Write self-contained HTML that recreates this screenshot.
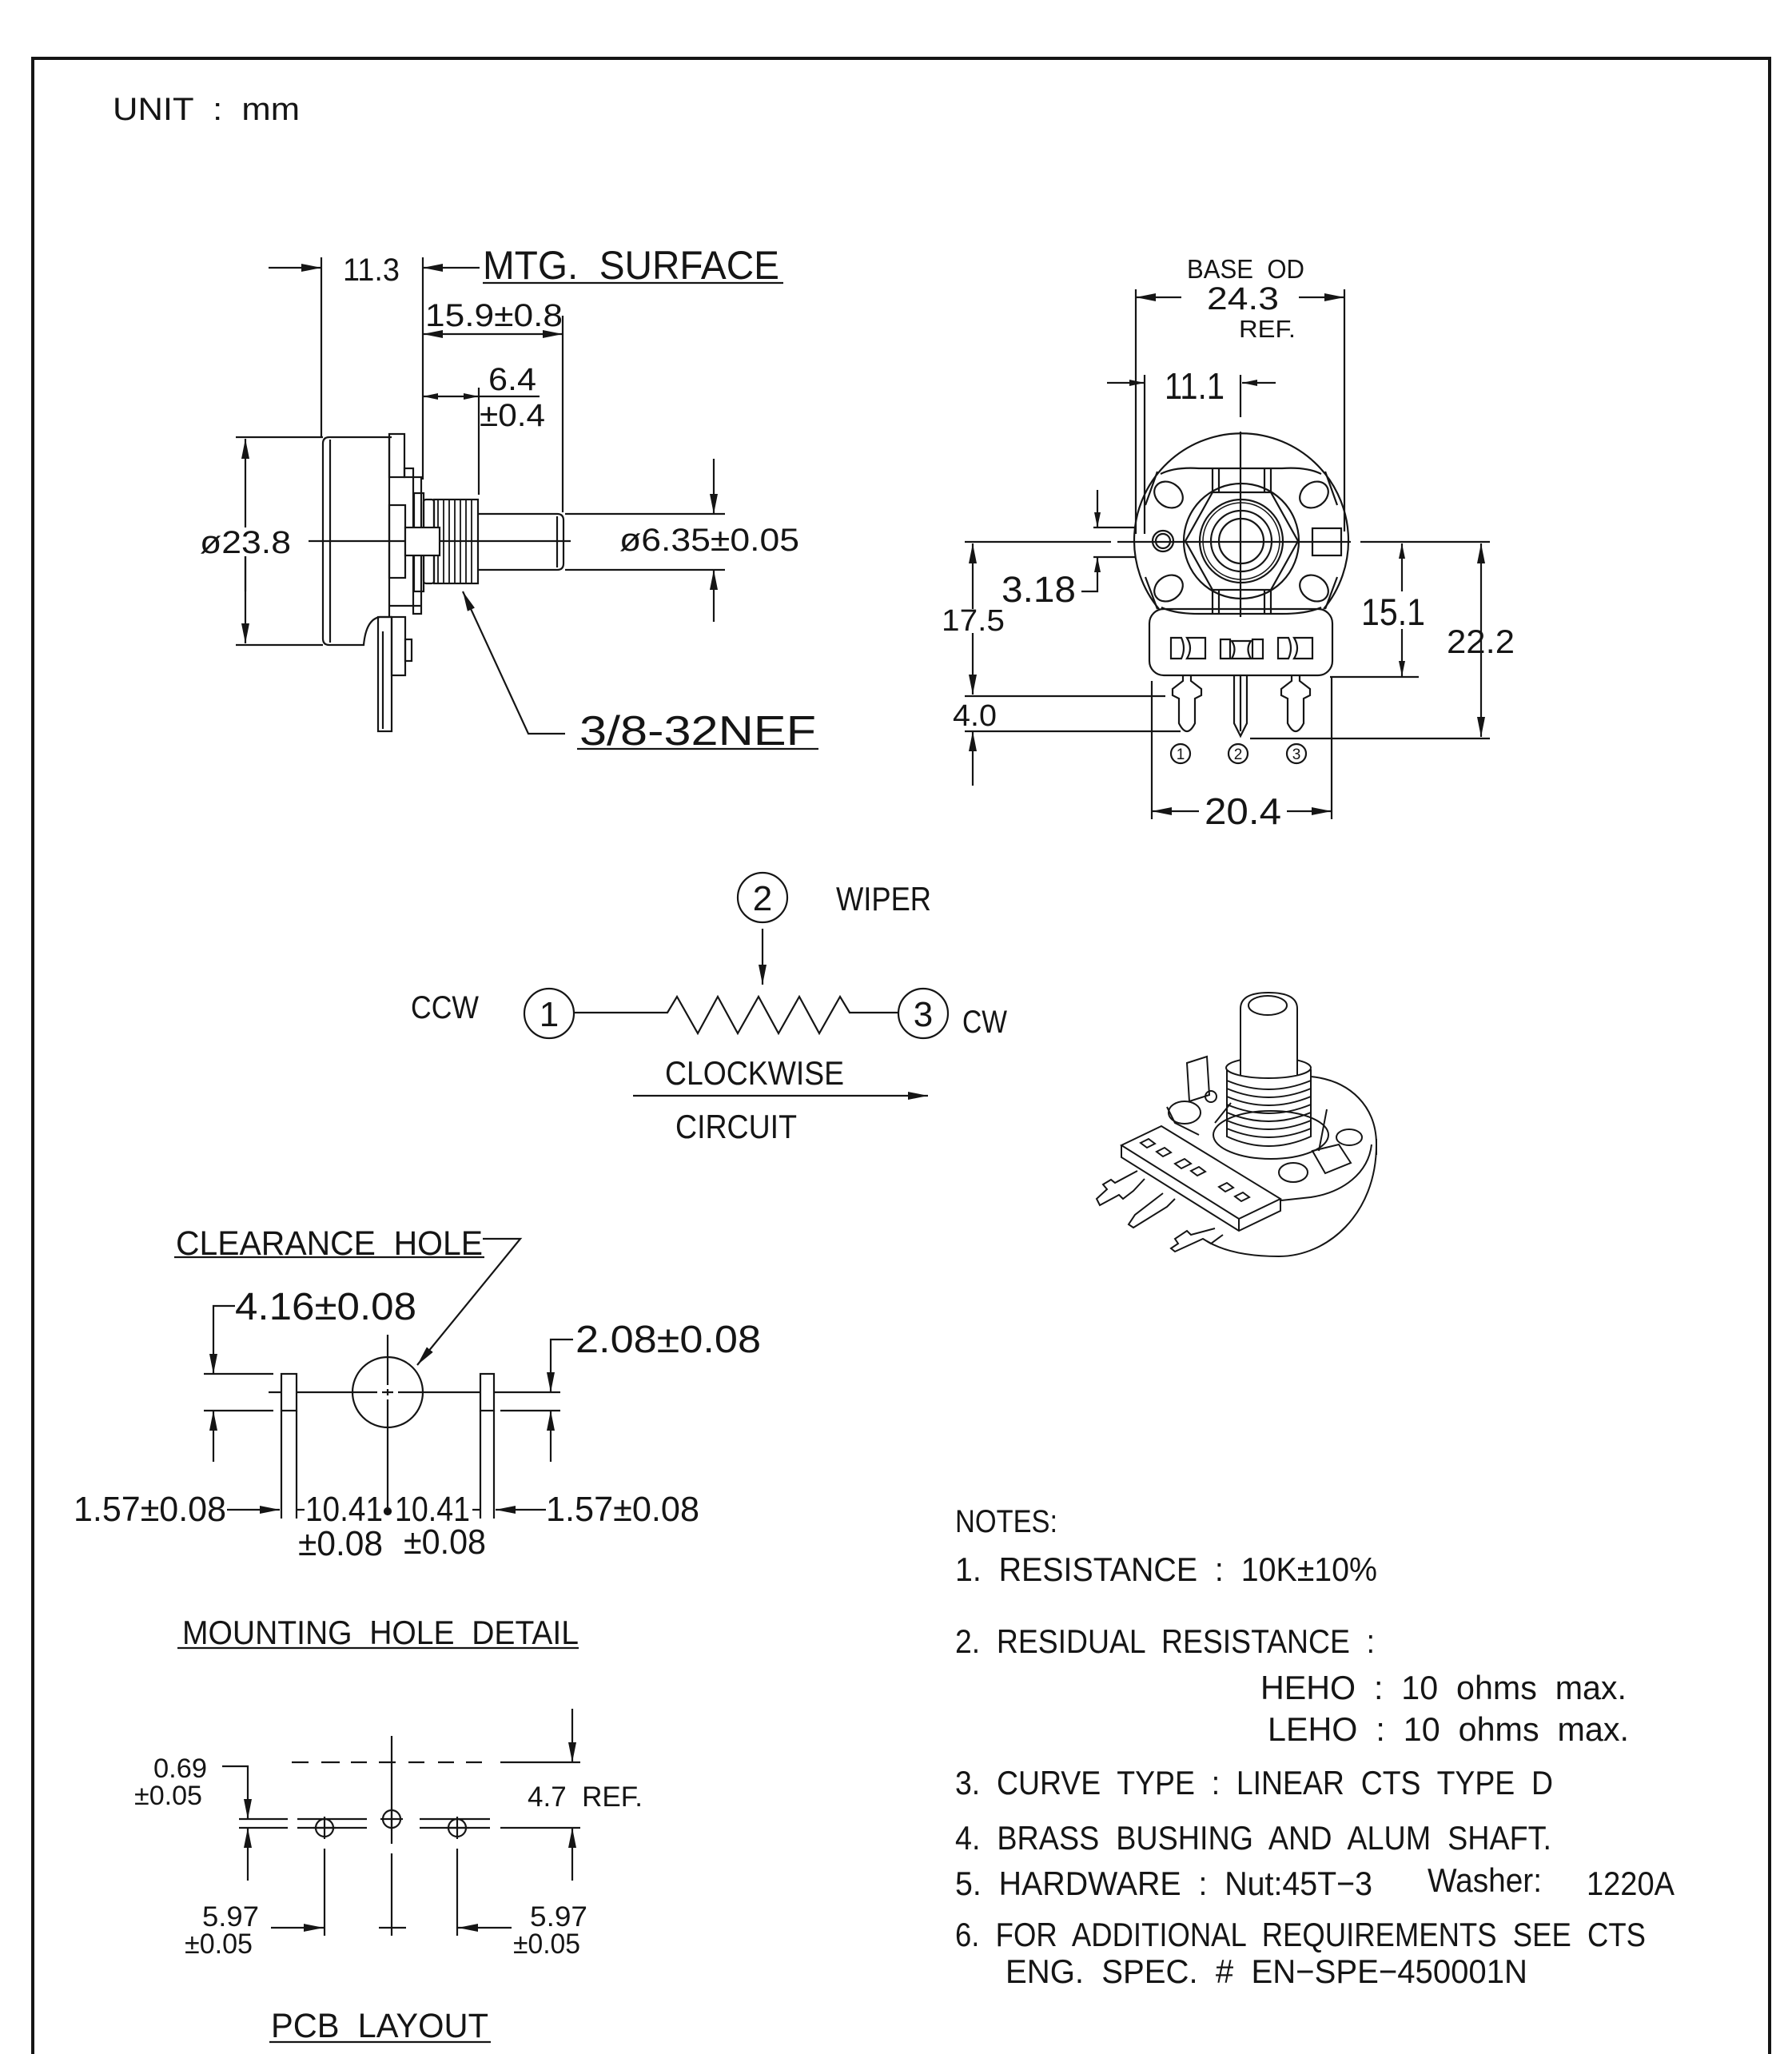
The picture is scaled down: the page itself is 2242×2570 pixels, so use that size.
<!DOCTYPE html>
<html><head><meta charset="utf-8">
<style>
html,body{margin:0;padding:0;background:#fff}
svg{display:block}
.t text{font-family:"Liberation Sans",sans-serif;fill:#151515;white-space:pre}
</style></head><body>
<svg width="2242" height="2570" viewBox="0 0 2242 2570" xmlns="http://www.w3.org/2000/svg">
<defs>
<marker id="a" markerWidth="26" markerHeight="10" refX="25" refY="5" orient="auto-start-reverse" markerUnits="userSpaceOnUse"><path d="M0,0 L25,5 L0,10 z" fill="#151515"/></marker>
<marker id="s" markerWidth="20" markerHeight="8" refX="19" refY="4" orient="auto-start-reverse" markerUnits="userSpaceOnUse"><path d="M0,0 L19,4 L0,8 z" fill="#151515"/></marker>
</defs>
<rect width="2242" height="2570" fill="#fff"/>
<g fill="none" stroke="#151515" stroke-width="2.2">
<!-- border -->
<path d="M41,2570 V73 H2214 V2570" stroke-width="4"/>

<!-- ===== SIDE VIEW ===== -->
<line x1="402" y1="322" x2="402" y2="547"/>
<line x1="336" y1="335" x2="402" y2="335" marker-end="url(#a)"/>
<line x1="529" y1="322" x2="529" y2="600"/>
<line x1="600" y1="335" x2="529" y2="335" marker-end="url(#a)"/>
<line x1="604" y1="354" x2="980" y2="354"/>
<line x1="529" y1="418" x2="704" y2="418" marker-start="url(#a)" marker-end="url(#a)"/>
<line x1="704" y1="395" x2="704" y2="641"/>
<line x1="529" y1="496" x2="599" y2="496" marker-start="url(#s)" marker-end="url(#s)"/>
<line x1="599" y1="496" x2="675" y2="496"/>
<line x1="599" y1="485" x2="599" y2="619"/>
<line x1="295" y1="547" x2="404" y2="547"/>
<line x1="295" y1="807" x2="404" y2="807"/>
<line x1="307" y1="549" x2="307" y2="740" marker-start="url(#a)"/>
<line x1="307" y1="696" x2="307" y2="805" marker-end="url(#a)"/>
<line x1="386" y1="677" x2="714" y2="677"/>
<line x1="707" y1="643" x2="907" y2="643"/>
<line x1="707" y1="713" x2="907" y2="713"/>
<line x1="893" y1="574" x2="893" y2="643" marker-end="url(#a)"/>
<line x1="893" y1="778" x2="893" y2="713" marker-end="url(#a)"/>
<polyline points="707,918 661,918 579,740" marker-end="url(#a)"/>
<line x1="722" y1="937" x2="1024" y2="937"/>
<!-- body -->
<path d="M490,547 H412 Q404,547 404,555 V799 Q404,807 412,807 H455 Q458,775 475,772 H490"/>
<line x1="413" y1="550" x2="413" y2="804"/>
<line x1="487" y1="547" x2="487" y2="772"/>
<rect x="487" y="543" width="19" height="54"/>
<rect x="506" y="586" width="11" height="11"/>
<rect x="517" y="597" width="10" height="171"/>
<rect x="518" y="617" width="12" height="123"/>
<rect x="487" y="632" width="20" height="91"/>
<rect x="530" y="625" width="13" height="105" rx="3"/>
<rect x="543" y="625" width="55" height="105"/>
<g stroke-width="1.8">
<line x1="548" y1="625" x2="548" y2="730"/><line x1="555" y1="625" x2="555" y2="730"/>
<line x1="562" y1="625" x2="562" y2="730"/><line x1="569" y1="625" x2="569" y2="730"/>
<line x1="576" y1="625" x2="576" y2="730"/><line x1="583" y1="625" x2="583" y2="730"/>
<line x1="590" y1="625" x2="590" y2="730"/>
</g>
<rect x="507" y="660" width="43" height="35" fill="#fff"/>
<path d="M598,643 H697 Q705,643 705,651 V705 Q705,713 697,713 H598"/>
<line x1="697" y1="646" x2="697" y2="710"/>
<line x1="487" y1="758" x2="527" y2="758"/>
<rect x="473" y="772" width="17" height="143"/>
<rect x="490" y="772" width="17" height="73"/>
<rect x="507" y="800" width="8" height="27"/>
<line x1="479" y1="790" x2="479" y2="912"/>

<!-- ===== FRONT VIEW ===== -->
<line x1="1421" y1="362" x2="1421" y2="668"/>
<line x1="1682" y1="362" x2="1682" y2="665"/>
<line x1="1478" y1="372" x2="1421" y2="372" marker-end="url(#a)"/>
<line x1="1625" y1="372" x2="1682" y2="372" marker-end="url(#a)"/>
<line x1="1385" y1="479" x2="1432" y2="479" marker-end="url(#s)"/>
<line x1="1432" y1="469" x2="1432" y2="668"/>
<line x1="1552" y1="469" x2="1552" y2="522"/>
<line x1="1596" y1="479" x2="1554" y2="479" marker-end="url(#s)"/>
<line x1="1552" y1="540" x2="1552" y2="772"/>
<path d="M1207,678 H1390 M1398,678 H1690 M1702,678 H1864"/>
<!-- 3.18 -->
<line x1="1368" y1="660" x2="1421" y2="660"/>
<line x1="1368" y1="697" x2="1421" y2="697"/>
<line x1="1373" y1="613" x2="1373" y2="660" marker-end="url(#s)"/>
<polyline points="1353,740 1373,740 1373,697" marker-end="url(#s)"/>
<!-- 17.5 / 4.0 -->
<line x1="1217" y1="680" x2="1217" y2="762" marker-start="url(#a)"/>
<line x1="1217" y1="792" x2="1217" y2="869" marker-end="url(#a)"/>
<line x1="1207" y1="871" x2="1458" y2="871"/>
<line x1="1207" y1="915" x2="1477" y2="915"/>
<line x1="1217" y1="983" x2="1217" y2="915" marker-end="url(#a)"/>
<!-- 15.1 -->
<line x1="1754" y1="680" x2="1754" y2="740" marker-start="url(#s)"/>
<line x1="1754" y1="787" x2="1754" y2="846" marker-end="url(#s)"/>
<line x1="1664" y1="847" x2="1775" y2="847"/>
<!-- 22.2 -->
<line x1="1853" y1="680" x2="1853" y2="922" marker-start="url(#a)" marker-end="url(#a)"/>
<line x1="1564" y1="924" x2="1864" y2="924"/>
<!-- 20.4 -->
<line x1="1441" y1="852" x2="1441" y2="1025"/>
<line x1="1666" y1="847" x2="1666" y2="1025"/>
<line x1="1500" y1="1015" x2="1441" y2="1015" marker-end="url(#a)"/>
<line x1="1610" y1="1015" x2="1666" y2="1015" marker-end="url(#a)"/>
<!-- body -->
<path d="M1450,762 A134,134 0 1 1 1656,762"/>
<path d="M1452,593 Q1470,584 1500,586 H1604 Q1635,584 1653,593"/>
<path d="M1453,760 Q1470,768 1500,768 H1604 Q1635,768 1653,760"/>
<path d="M1517,586 V616 M1525,586 V616 M1582,586 V616 M1590,586 V616 M1517,738 V768 M1525,738 V768 M1582,738 V768 M1590,738 V768"/>
<polygon points="1517,616 1590,616 1624,677 1590,738 1517,738 1483,677"/>
<circle cx="1553" cy="677" r="72"/>
<circle cx="1553" cy="677" r="52"/>
<circle cx="1553" cy="677" r="48" stroke-width="1.5"/>
<circle cx="1553" cy="677" r="38"/>
<circle cx="1553" cy="677" r="28"/>
<ellipse cx="1462" cy="619" rx="19" ry="15" transform="rotate(35 1462 619)"/>
<ellipse cx="1644" cy="619" rx="19" ry="15" transform="rotate(-35 1644 619)"/>
<ellipse cx="1462" cy="736" rx="19" ry="15" transform="rotate(-35 1462 736)"/>
<ellipse cx="1644" cy="736" rx="19" ry="15" transform="rotate(35 1644 736)"/>
<path d="M1433,632 L1448,590 M1433,722 L1448,762 M1673,632 L1658,590 M1673,722 L1658,762"/>
<circle cx="1455" cy="677" r="13"/>
<circle cx="1455" cy="677" r="9"/>
<rect x="1642" y="661" width="36" height="34"/>
<rect x="1438" y="762" width="229" height="83" rx="18"/>
<!-- DD symbols -->
<path d="M1465,798 H1478 Q1484,811 1478,824 H1465 Z M1508,798 H1485 Q1493,811 1485,824 H1508 Z"/>
<path d="M1527,800 H1539 V824 H1527 Z M1541,802 H1565 Q1558,812 1565,824 H1541 Q1548,812 1541,802 Z M1567,800 H1580 V824 H1567 Z"/>
<path d="M1599,798 H1612 Q1618,811 1612,824 H1599 Z M1642,798 H1619 Q1627,811 1619,824 H1642 Z"/>
<!-- pins -->
<path d="M1480,845 V852 L1467,862 V870 L1475,874 V905 Q1485,925 1495,905 V874 L1503,870 V862 L1490,852 V845"/>
<path d="M1544,845 V905 L1552,921 L1560,905 V845 M1552,845 V915"/>
<path d="M1616,845 V852 L1603,862 V870 L1611,874 V905 Q1621,925 1631,905 V874 L1639,870 V862 L1626,852 V845"/>
<circle cx="1477" cy="943" r="12"/>
<circle cx="1549" cy="943" r="12"/>
<circle cx="1622" cy="943" r="12"/>

<!-- ===== CIRCUIT ===== -->
<circle cx="954" cy="1123" r="31"/>
<circle cx="687" cy="1268" r="31"/>
<circle cx="1155" cy="1268" r="31"/>
<line x1="954" y1="1162" x2="954" y2="1232" marker-end="url(#a)"/>
<polyline points="718,1267 835,1267 847,1247 873,1293 898,1247 923,1293 949,1247 974,1293 1000,1247 1025,1293 1051,1247 1063,1267 1124,1267"/>
<line x1="792" y1="1371" x2="1161" y2="1371" marker-end="url(#a)"/>

<!-- ===== 3D PICTURE ===== -->
<g stroke-width="2">
<path d="M1640,1347 C1690,1352 1722,1385 1722,1432 C1722,1520 1660,1572 1600,1572 C1560,1572 1530,1565 1510,1553"/>
<path d="M1716,1432 C1712,1468 1680,1492 1640,1498 L1603,1502"/>
<path d="M1722,1425 V1445"/>
<ellipse cx="1590" cy="1420" rx="72" ry="30"/>
<path d="M1520,1405 L1540,1380 M1660,1388 L1650,1440"/>
<path d="M1535,1338 V1422 Q1587,1446 1640,1422 V1338"/>
<ellipse cx="1587" cy="1336" rx="53" ry="13" fill="#fff"/>
<path d="M1535,1352 Q1587,1374 1640,1352 M1535,1362 Q1587,1384 1640,1362 M1535,1372 Q1587,1394 1640,1372 M1535,1382 Q1587,1404 1640,1382 M1535,1392 Q1587,1414 1640,1392 M1535,1402 Q1587,1424 1640,1402 M1535,1412 Q1587,1434 1640,1412"/>
<path d="M1552,1345 V1262 Q1552,1242 1587,1242 Q1623,1242 1623,1262 V1345" fill="#fff"/>
<ellipse cx="1586" cy="1258" rx="24" ry="12"/>
<path d="M1485,1330 L1510,1322 L1513,1370 L1488,1378 Z"/>
<circle cx="1515" cy="1372" r="7"/>
<ellipse cx="1482" cy="1392" rx="20" ry="14"/>
<path d="M1460,1385 L1470,1405 L1500,1420"/>
<ellipse cx="1688" cy="1423" rx="16" ry="10"/>
<ellipse cx="1618" cy="1467" rx="18" ry="12"/>
<path d="M1642,1440 L1675,1432 L1690,1455 L1658,1468 Z"/>
<path d="M1403,1433 L1453,1409 L1602,1500 L1550,1525 Z" fill="#fff"/>
<path d="M1403,1433 V1448 L1550,1540 L1602,1515 V1500 M1550,1525 V1540"/>
<path d="M1427,1430 l10,-5 l8,6 l-10,5 z M1447,1441 l10,-5 l8,6 l-10,5 z M1470,1456 l12,-6 l8,6 l-12,6 z M1490,1465 l10,-5 l8,6 l-10,5 z M1525,1485 l10,-5 l8,6 l-10,5 z M1545,1497 l10,-5 l8,6 l-10,5 z"/>
<path d="M1423,1465 L1395,1480 L1390,1476 L1380,1482 L1385,1488 L1372,1500 L1376,1508 L1400,1495 L1405,1500 L1418,1490 L1432,1475"/>
<path d="M1455,1493 L1420,1520 L1412,1532 L1418,1536 L1460,1510 L1470,1500"/>
<path d="M1520,1537 L1490,1545 L1485,1540 L1470,1550 L1474,1556 L1465,1562 L1470,1566 L1505,1550 L1515,1556 L1530,1545"/>
</g>

<!-- ===== MOUNTING HOLE DETAIL ===== -->
<line x1="218" y1="1573" x2="606" y2="1573"/>
<polyline points="604,1550 651,1550 522,1708" marker-end="url(#a)"/>
<circle cx="485" cy="1742" r="44"/>
<path d="M336,1742 H352 M371,1742 H472 M478,1742 H492 M498,1742 H601 M618,1742 H701"/>
<path d="M485,1670 V1733 M485,1738 V1746 M485,1751 V1891"/>
<circle cx="485" cy="1891" r="4" fill="#151515"/>
<rect x="352" y="1719" width="19" height="46"/>
<rect x="601" y="1719" width="17" height="46"/>
<path d="M352,1765 V1900 M371,1765 V1900 M601,1765 V1900 M618,1765 V1900"/>
<line x1="255" y1="1719" x2="342" y2="1719"/>
<line x1="255" y1="1765" x2="342" y2="1765"/>
<polyline points="294,1634 267,1634 267,1719" marker-end="url(#a)"/>
<line x1="267" y1="1829" x2="267" y2="1765" marker-end="url(#a)"/>
<line x1="626" y1="1765" x2="701" y2="1765"/>
<polyline points="717,1676 689,1676 689,1742" marker-end="url(#a)"/>
<line x1="689" y1="1829" x2="689" y2="1765" marker-end="url(#a)"/>
<line x1="284" y1="1889" x2="350" y2="1889" marker-end="url(#a)"/>
<line x1="683" y1="1889" x2="620" y2="1889" marker-end="url(#a)"/>
<path d="M371,1889 H381 M591,1889 H601"/>
<line x1="222" y1="2062" x2="724" y2="2062"/>

<!-- ===== PCB LAYOUT ===== -->
<path d="M490,2172 V2307 M490,2319 V2422 M474,2412 H508"/>
<path d="M365,2205 H386 M402,2205 H425 M439,2205 H459 M474,2205 H495 M511,2205 H531 M548,2205 H568 M583,2205 H603 M626,2205 H726"/>
<line x1="716" y1="2138" x2="716" y2="2205" marker-end="url(#a)"/>
<line x1="716" y1="2353" x2="716" y2="2287" marker-end="url(#a)"/>
<line x1="626" y1="2287" x2="726" y2="2287"/>
<path d="M299,2276 H360 M299,2287 H360 M372,2276 H459 M372,2287 H459 M525,2276 H613 M525,2287 H613"/>
<circle cx="406" cy="2287" r="11"/>
<circle cx="490" cy="2276" r="11"/>
<circle cx="572" cy="2287" r="11"/>
<path d="M392,2287 H420 M406,2273 V2301 M476,2276 H504 M490,2262 V2290 M558,2287 H586 M572,2273 V2301"/>
<path d="M406,2313 V2422 M572,2313 V2422"/>
<polyline points="278,2210 310,2210 310,2276" marker-end="url(#a)"/>
<line x1="310" y1="2353" x2="310" y2="2287" marker-end="url(#a)"/>
<line x1="339" y1="2412" x2="405" y2="2412" marker-end="url(#a)"/>
<line x1="640" y1="2412" x2="573" y2="2412" marker-end="url(#a)"/>
<line x1="337" y1="2555" x2="614" y2="2555"/>
</g>

<g class="t" stroke="none">
<text x="141" y="150" font-size="40" textLength="234" lengthAdjust="spacingAndGlyphs">UNIT  :  mm</text>
<text x="429" y="351" font-size="40" textLength="71" lengthAdjust="spacingAndGlyphs">11.3</text>
<text x="604" y="349" font-size="50" textLength="371" lengthAdjust="spacingAndGlyphs">MTG.  SURFACE</text>
<text x="532" y="408" font-size="40" textLength="172" lengthAdjust="spacingAndGlyphs">15.9±0.8</text>
<text x="611" y="488" font-size="40" textLength="60" lengthAdjust="spacingAndGlyphs">6.4</text>
<text x="600" y="533" font-size="40" textLength="82" lengthAdjust="spacingAndGlyphs">±0.4</text>
<rect x="250" y="660" width="114" height="36" fill="#fff"/>
<text x="250" y="692" font-size="40" textLength="114" lengthAdjust="spacingAndGlyphs">ø23.8</text>
<text x="775" y="689" font-size="40" textLength="225" lengthAdjust="spacingAndGlyphs">ø6.35±0.05</text>
<text x="725" y="932" font-size="52" textLength="296" lengthAdjust="spacingAndGlyphs">3/8-32NEF</text>

<text x="1485" y="348" font-size="33" textLength="147" lengthAdjust="spacingAndGlyphs">BASE  OD</text>
<text x="1510" y="387" font-size="40" textLength="90" lengthAdjust="spacingAndGlyphs">24.3</text>
<text x="1550" y="422" font-size="31" textLength="71" lengthAdjust="spacingAndGlyphs">REF.</text>
<text x="1457" y="499" font-size="46" textLength="75" lengthAdjust="spacingAndGlyphs">11.1</text>
<text x="1253" y="753" font-size="45" textLength="93" lengthAdjust="spacingAndGlyphs">3.18</text>
<text x="1178" y="789" font-size="38" textLength="79" lengthAdjust="spacingAndGlyphs">17.5</text>
<text x="1192" y="908" font-size="38" textLength="55" lengthAdjust="spacingAndGlyphs">4.0</text>
<text x="1703" y="782" font-size="47" textLength="80" lengthAdjust="spacingAndGlyphs">15.1</text>
<text x="1810" y="817" font-size="42" textLength="85" lengthAdjust="spacingAndGlyphs">22.2</text>
<text x="1507" y="1031" font-size="46" textLength="96" lengthAdjust="spacingAndGlyphs">20.4</text>
<text x="1477" y="950" font-size="19" text-anchor="middle">1</text>
<text x="1549" y="950" font-size="19" text-anchor="middle">2</text>
<text x="1622" y="950" font-size="19" text-anchor="middle">3</text>

<text x="954" y="1139" font-size="44" text-anchor="middle">2</text>
<text x="687" y="1284" font-size="44" text-anchor="middle">1</text>
<text x="1155" y="1284" font-size="44" text-anchor="middle">3</text>
<text x="1046" y="1139" font-size="42" textLength="119" lengthAdjust="spacingAndGlyphs">WIPER</text>
<text x="514" y="1274" font-size="40" textLength="85" lengthAdjust="spacingAndGlyphs">CCW</text>
<text x="1204" y="1292" font-size="40" textLength="56" lengthAdjust="spacingAndGlyphs">CW</text>
<text x="832" y="1357" font-size="42" textLength="224" lengthAdjust="spacingAndGlyphs">CLOCKWISE</text>
<text x="845" y="1424" font-size="42" textLength="152" lengthAdjust="spacingAndGlyphs">CIRCUIT</text>

<text x="220" y="1570" font-size="43" textLength="384" lengthAdjust="spacingAndGlyphs">CLEARANCE  HOLE</text>
<text x="294" y="1651" font-size="48" textLength="227" lengthAdjust="spacingAndGlyphs">4.16±0.08</text>
<text x="720" y="1692" font-size="48" textLength="232" lengthAdjust="spacingAndGlyphs">2.08±0.08</text>
<text x="92" y="1903" font-size="44" textLength="191" lengthAdjust="spacingAndGlyphs">1.57±0.08</text>
<text x="382" y="1903" font-size="44" textLength="97" lengthAdjust="spacingAndGlyphs">10.41</text>
<text x="494" y="1903" font-size="44" textLength="94" lengthAdjust="spacingAndGlyphs">10.41</text>
<text x="373" y="1946" font-size="44" textLength="106" lengthAdjust="spacingAndGlyphs">±0.08</text>
<text x="505" y="1944" font-size="44" textLength="103" lengthAdjust="spacingAndGlyphs">±0.08</text>
<text x="683" y="1903" font-size="44" textLength="192" lengthAdjust="spacingAndGlyphs">1.57±0.08</text>
<text x="228" y="2057" font-size="42" textLength="496" lengthAdjust="spacingAndGlyphs">MOUNTING  HOLE  DETAIL</text>

<text x="192" y="2224" font-size="34" textLength="67" lengthAdjust="spacingAndGlyphs">0.69</text>
<text x="168" y="2258" font-size="34" textLength="85" lengthAdjust="spacingAndGlyphs">±0.05</text>
<text x="660" y="2260" font-size="35" textLength="144" lengthAdjust="spacingAndGlyphs">4.7  REF.</text>
<text x="253" y="2410" font-size="35" textLength="71" lengthAdjust="spacingAndGlyphs">5.97</text>
<text x="231" y="2444" font-size="35" textLength="85" lengthAdjust="spacingAndGlyphs">±0.05</text>
<text x="663" y="2410" font-size="35" textLength="72" lengthAdjust="spacingAndGlyphs">5.97</text>
<text x="642" y="2444" font-size="35" textLength="84" lengthAdjust="spacingAndGlyphs">±0.05</text>
<text x="339" y="2549" font-size="43" textLength="272" lengthAdjust="spacingAndGlyphs">PCB  LAYOUT</text>

<text x="1195" y="1917" font-size="40" textLength="128" lengthAdjust="spacingAndGlyphs">NOTES:</text>
<text x="1195" y="1978" font-size="42" textLength="528" lengthAdjust="spacingAndGlyphs">1.  RESISTANCE  :  10K±10%</text>
<text x="1195" y="2068" font-size="42" textLength="525" lengthAdjust="spacingAndGlyphs">2.  RESIDUAL  RESISTANCE  :</text>
<text x="1577" y="2126" font-size="42" textLength="458" lengthAdjust="spacingAndGlyphs">HEHO  :  10  ohms  max.</text>
<text x="1586" y="2178" font-size="42" textLength="452" lengthAdjust="spacingAndGlyphs">LEHO  :  10  ohms  max.</text>
<text x="1195" y="2245" font-size="42" textLength="748" lengthAdjust="spacingAndGlyphs">3.  CURVE  TYPE  :  LINEAR  CTS  TYPE  D</text>
<text x="1195" y="2314" font-size="42" textLength="746" lengthAdjust="spacingAndGlyphs">4.  BRASS  BUSHING  AND  ALUM  SHAFT.</text>
<text x="1195" y="2371" font-size="42" textLength="522" lengthAdjust="spacingAndGlyphs">5.  HARDWARE  :  Nut:45T−3</text>
<text x="1786" y="2367" font-size="42" textLength="143" lengthAdjust="spacingAndGlyphs">Washer:</text>
<text x="1985" y="2371" font-size="42" textLength="110" lengthAdjust="spacingAndGlyphs">1220A</text>
<text x="1195" y="2435" font-size="42" textLength="864" lengthAdjust="spacingAndGlyphs">6.  FOR  ADDITIONAL  REQUIREMENTS  SEE  CTS</text>
<text x="1258" y="2481" font-size="42" textLength="653" lengthAdjust="spacingAndGlyphs">ENG.  SPEC.  #  EN−SPE−450001N</text>
</g>
</svg>
</body></html>
